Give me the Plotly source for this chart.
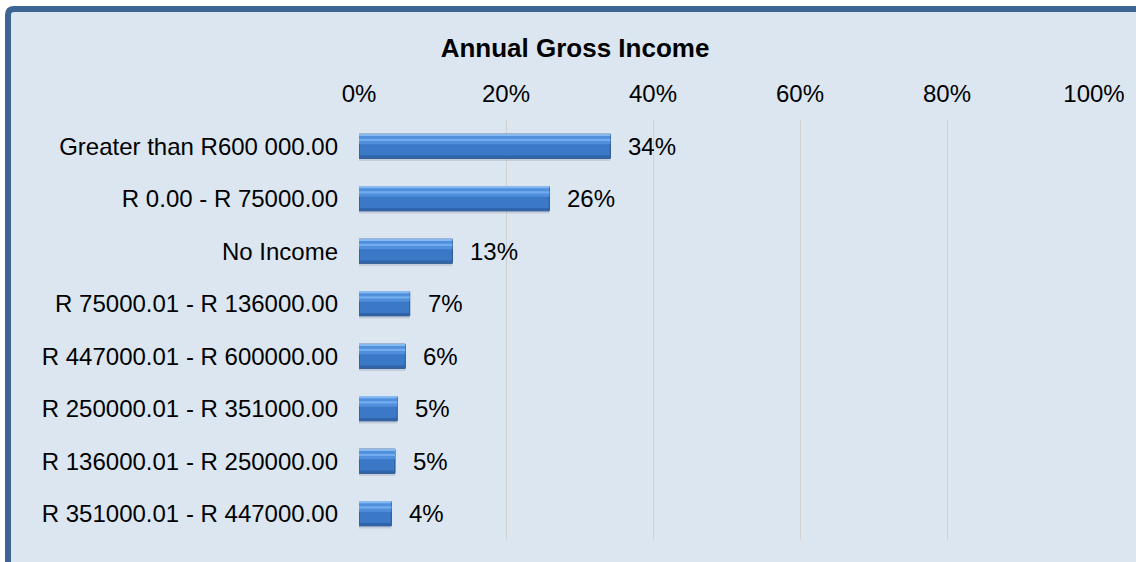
import plotly.graph_objects as go

# Income bands, largest share first
categories = [
    "Greater than R600 000.00",
    "R 0.00 - R 75000.00",
    "No Income",
    "R 75000.01 - R 136000.00",
    "R 447000.01 - R 600000.00",
    "R 250000.01 - R 351000.00",
    "R 136000.01 - R 250000.00",
    "R 351000.01 - R 447000.00",
]
shares = [0.342, 0.259, 0.127, 0.069, 0.063, 0.052, 0.049, 0.044]
x_ticks = [0, 0.2, 0.4, 0.6, 0.8, 1.0]

W, H = 1136, 562
L, R, T, B = 359, 1094, 120, 540  # plot area in pixels
FONT = "Liberation Sans"
BG = "#dce6f1"
FRAME = "#3d6594"


def px(x):
    return (x - L) / (R - L)


def py(y):
    return (B - y) / (B - T)


BAR_W = 0.46
TOP = -BAR_W / 2
fig = go.Figure()


def bar_layer(width, offset, color, line=None, hover=False):
    fig.add_trace(go.Bar(
        y=categories, x=shares, orientation="h", width=width, offset=offset,
        marker=dict(color=color, line=line or dict(width=0)),
        hoverinfo=None if hover else "skip", showlegend=False,
    ))


# soft drop shadow under each bar
bar_layer(BAR_W, TOP + 0.05, "rgba(40,60,90,0.14)")
# bar body
bar_layer(BAR_W, TOP, "#3b78c6", dict(color="#26508a", width=1), hover=True)
# lighter upper part
bar_layer(0.17, TOP + 0.02, "#4f8fdc")
# glossy highlight streak
bar_layer(0.045, TOP + 0.085, "#72acee")
# bright top edge
bar_layer(0.025, TOP + 0.005, "#86baf0")
# darker bottom edge
bar_layer(0.05, TOP + BAR_W - 0.055, "#2f64aa")

# value labels to the right of each bar
annotations = [
    dict(x=v, y=c, xref="x", yref="y", text=f"{v:.0%}", showarrow=False,
         xanchor="left", yanchor="middle", xshift=16,
         font=dict(family=FONT, size=24, color="#000000"))
    for c, v in zip(categories, shares)
]

shapes = [
    # chart background panel
    dict(type="rect", xref="paper", yref="paper", layer="below",
         x0=px(8), x1=px(W + 50), y0=py(H + 50), y1=py(9),
         fillcolor=BG, line=dict(width=0)),
    # frame along the top and left with a rounded corner
    dict(type="path", xref="paper", yref="paper", layer="below",
         path=(f"M {px(8)} {py(H + 50)} L {px(8)} {py(15)} "
               f"Q {px(8)} {py(9)} {px(14)} {py(9)} L {px(W + 50)} {py(9)}"),
         line=dict(color=FRAME, width=6)),
]

fig.update_layout(
    width=W, height=H,
    margin=dict(l=L, r=W - R, t=T, b=H - B),
    paper_bgcolor="#ffffff",
    plot_bgcolor="rgba(0,0,0,0)",
    barmode="overlay",
    title=dict(text="Annual Gross Income", xref="container", yref="container",
               x=575 / W, y=1 - 48 / H, xanchor="center", yanchor="middle",
               font=dict(family=FONT, size=26, color="#000000", weight="bold")),
    font=dict(family=FONT, size=24, color="#000000"),
    xaxis=dict(side="top", range=[0, 1], tickvals=x_ticks, tickformat=".0%",
               showgrid=True, gridcolor="#d3d1cf", gridwidth=1,
               zeroline=False, showline=False, ticks="", ticklabelstandoff=12,
               fixedrange=True),
    yaxis=dict(categoryorder="array", categoryarray=categories,
               autorange="reversed", showgrid=False, zeroline=False,
               showline=False, ticks="", ticklabelstandoff=20, fixedrange=True),
    annotations=annotations,
    shapes=shapes,
    showlegend=False,
)

fig.write_html("out.html")
